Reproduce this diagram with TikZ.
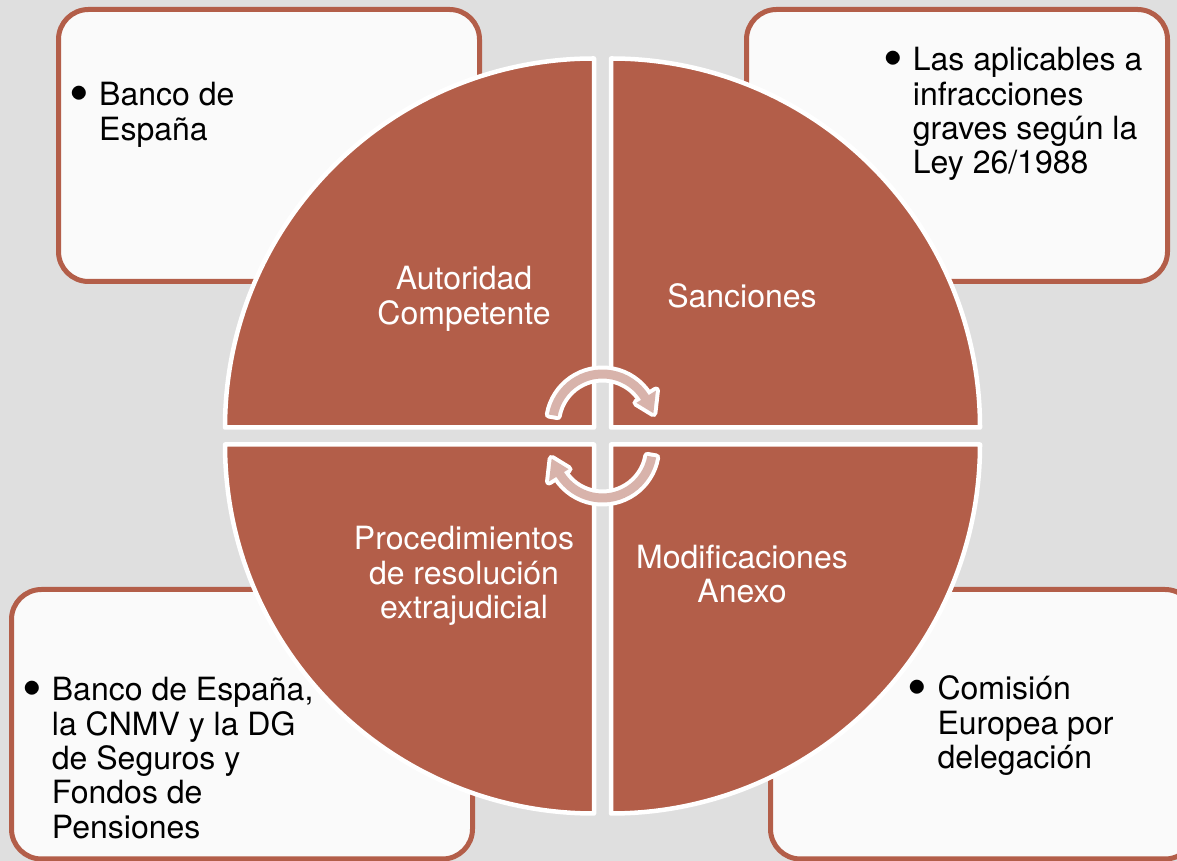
\documentclass[tikz,border=0pt]{standalone}
\usepackage{fontspec}
\setmainfont{TeX Gyre Heros}
\definecolor{brownred}{RGB}{179,94,73}
\definecolor{bggray}{RGB}{223,223,223}
\definecolor{boxfill}{RGB}{250,250,250}
\definecolor{pinkfill}{RGB}{216,179,171}
\newcommand\bigfont{\fontsize{32}{34.4}\selectfont}
\newcommand\clines[1]{\begin{tabular}[t]{@{}c@{}}#1\end{tabular}}
\newcommand\bigbullet{\raisebox{-6.5pt}{\scalebox{1.75}{\textbullet}}}
\newcommand\blines[1]{\llap{\bigbullet\hspace{10pt}}\begin{tabular}[t]{@{}l@{}}#1\end{tabular}}
\tikzset{
  quad/.style={fill=brownred, draw=white, line width=4.5pt, line join=round},
  infobox/.style={draw=brownred, fill=boxfill, line width=5pt, rounded corners=30pt},
  cyclearrow/.style={fill=pinkfill, line join=round,
    preaction={draw=white, line width=8pt, line join=round}},
  circtext/.style={text=white, anchor=base, inner sep=0pt, font=\bigfont},
  boxtext/.style={text=black, anchor=base west, inner sep=0pt, font=\bigfont},
}
\begin{document}
\begin{tikzpicture}[x=1pt,y=1pt]
\fill[bggray] (0,0) rectangle (1177,861);
\useasboundingbox (0,0) rectangle (1177,861);

% info boxes
\draw[infobox] (58.5,851.5) rectangle (479.5,579.5);
\draw[infobox] (746.5,851.5) rectangle (1167.5,579.5);
\draw[infobox] (11.5,271.5) rectangle (472.5,2);
\draw[infobox] (770.5,271.5) rectangle (1195,2);

\node[boxtext] (tltext) at (99,755) {\blines{Banco de\\España}};
\node[boxtext] (trtext) at (912.7,790.3) {\blines{Las aplicables a\\infracciones\\graves según la\\Ley 26/1988}};
\node[boxtext] (bltext) at (51.7,160.3) {\blines{Banco de España,\\la CNMV y la DG\\de Seguros y\\Fondos de\\Pensiones}};
\node[boxtext] (brtext) at (937.3,161) {\blines{Comisión\\Europea por\\delegación}};

% quadrants
\draw[quad] (594,433.5) -- ++(-369,0) arc[start angle=180,end angle=90,radius=369] -- cycle;
\draw[quad] (611,433.5) -- ++(0,369) arc[start angle=90,end angle=0,radius=369] -- cycle;
\draw[quad] (611,416.5) -- ++(369,0) arc[start angle=0,end angle=-90,radius=369] -- cycle;
\draw[quad] (594,416.5) -- ++(0,-369) arc[start angle=-90,end angle=-180,radius=369] -- cycle;

\node[circtext] (q1) at (464,571) {\clines{Autoridad\\Competente}};
\node[circtext] (q2) at (742,553.7) {\clines{Sanciones}};
\node[circtext] (q3) at (464,311) {\clines{Procedimientos\\de resolución\\extrajudicial}};
\node[circtext] (q4) at (742,292.7) {\clines{Modificaciones\\Anexo}};

% cycle arrows
\begin{scope}[shift={(602.5,437)}]
\path[cyclearrow] (170:54.5) arc[start angle=170,end angle=32,radius=54.5]
  -- (32:63) -- (12:52) -- (32:40) -- (32:45.5)
  arc[start angle=32,end angle=170,radius=45.5] -- cycle;
\end{scope}
\begin{scope}[shift={(602.5,413)}, rotate=180]
\path[cyclearrow] (170:54.5) arc[start angle=170,end angle=32,radius=54.5]
  -- (32:63) -- (12:52) -- (32:40) -- (32:45.5)
  arc[start angle=32,end angle=170,radius=45.5] -- cycle;
\end{scope}
\end{tikzpicture}
\end{document}
